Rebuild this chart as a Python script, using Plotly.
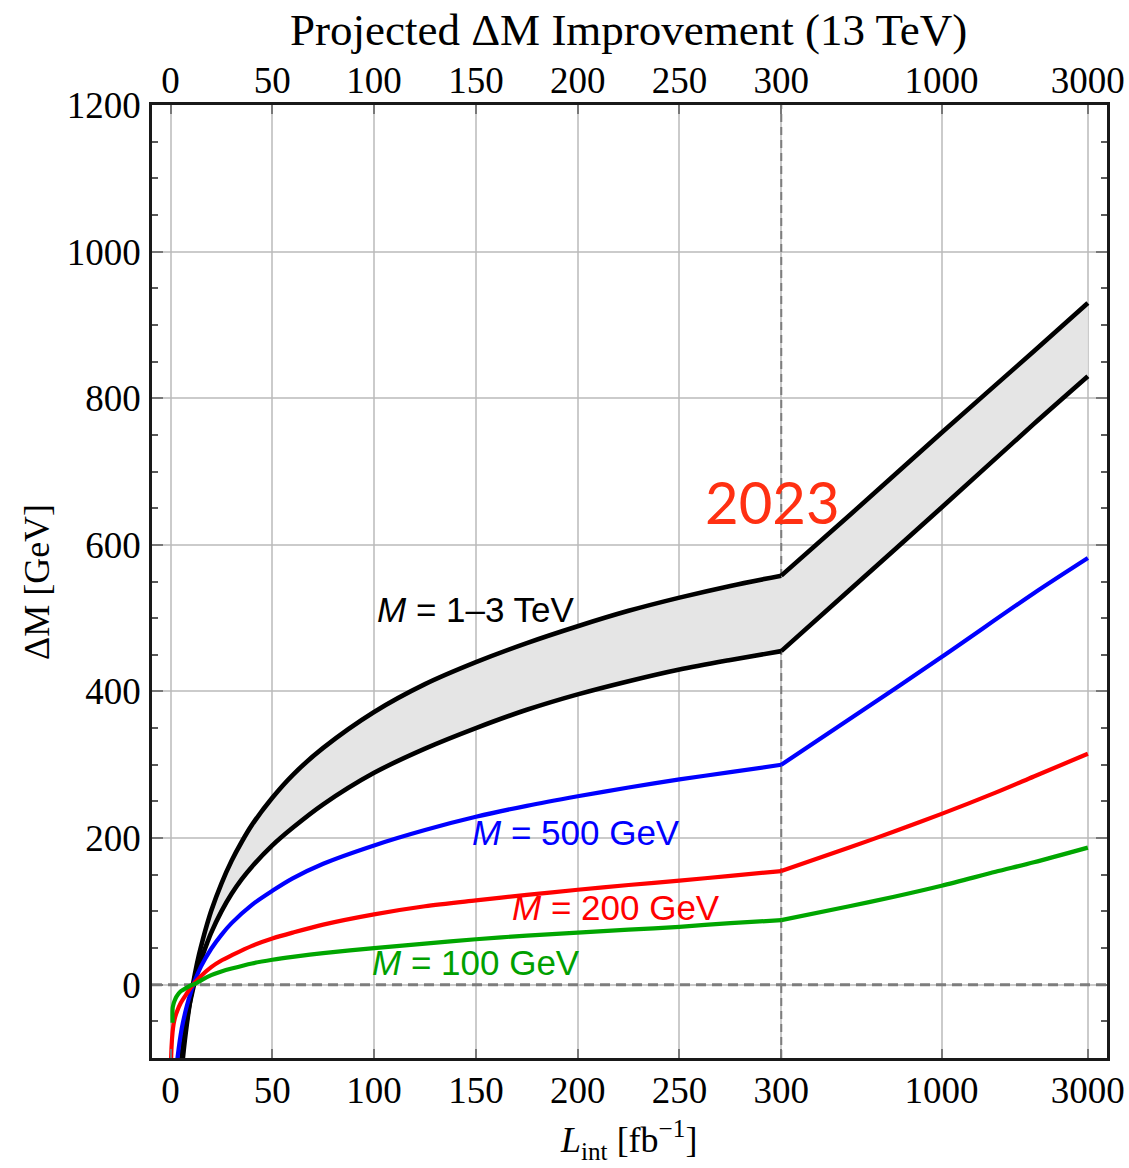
import math
import plotly.graph_objects as go

# ---------------- data ----------------
tick_L = [0, 50, 100, 150, 200, 250, 300, 1000, 3000]
tick_text = ["0", "50", "100", "150", "200", "250", "300", "1000", "3000"]

# M = 1-3 TeV band, upper edge
L_up = [5, 6, 7, 8, 9, 10, 12, 14, 16, 18, 20, 25, 30, 35, 40, 50, 60, 75, 100, 125,
        150, 175, 200, 225, 250, 275, 300, 500, 1000, 2000, 3000]
dm_up = [-133, -102, -76, -54, -34, -16, 15, 41, 63, 83, 101, 138, 169, 195, 218, 255,
         286, 323, 372, 410, 440, 466, 489, 510, 528, 544, 558, 640, 753, 864, 930]

# M = 1-3 TeV band, lower edge
L_lo = [5, 6, 7, 8, 9, 10, 12, 14, 16, 18, 20, 25, 30, 35, 40, 50, 60, 75, 100, 125,
        150, 175, 200, 225, 250, 275, 300, 500, 1000, 2000, 3000]
dm_lo = [-109, -85, -65, -48, -32, -19, 5, 25, 42, 57, 71, 100, 124, 144, 161, 190,
         214, 246, 289, 322, 350, 375, 396, 414, 430, 443, 455, 538, 651, 765, 830]

# M = 500 GeV
L_500 = [2, 2.7, 3, 4, 5, 6, 8, 10, 12, 15, 20, 25, 30, 40, 50, 60, 75, 100, 125, 150,
         175, 200, 225, 250, 275, 300, 500, 1000, 2000, 3000]
dm_500 = [-140, -118, -110, -87, -68, -53, -29, -10, 6, 25, 49, 68, 84, 109, 128, 145,
          165, 190, 211, 229, 244, 257, 269, 280, 290, 300, 362, 447, 534, 582]

# M = 200 GeV
L_200 = [0.2, 0.5, 1, 1.5, 2, 3, 5, 8, 10, 12, 15, 20, 25, 30, 40, 50, 60, 75, 100,
         125, 150, 175, 200, 225, 250, 275, 300, 500, 700, 1000, 1500, 2000, 3000]
dm_200 = [-110, -85, -65, -54, -47, -38, -25, -12, -4, 3, 12, 24, 33, 40, 53, 63, 71,
          82, 96, 107, 115, 122.5, 129.5, 136, 142, 148.5, 155, 187, 209, 233, 262, 284,
          315]

# M = 100 GeV
L_100 = [1.0, 1.05, 1.5, 2, 3, 5, 8, 10, 12, 15, 20, 25, 30, 40, 50, 60, 75, 100, 125,
         150, 175, 200, 225, 250, 275, 300, 500, 700, 1000, 1500, 2000, 3000]
dm_100 = [-52, -32, -26, -22, -16, -9, -4, -1, 1, 6, 13, 18, 22, 29, 34, 38, 43, 50,
          56, 62, 67, 71, 75, 79, 84, 88, 107, 120, 135, 154, 167, 187]

# ---------------- axis transform: linear to 300, log above ----------------
LOG_SCALE = 150.6  # x units per decade above 300
BREAK = 300


def to_u(L):
    return L if L <= BREAK else BREAK + LOG_SCALE * math.log10(L / BREAK)


def us(Ls):
    return [to_u(v) for v in Ls]


tick_u = us(tick_L)

W, H = 1129, 1168
ML, MR, MT, MB = 152, 22, 105, 110
PW, PH = W - ML - MR, H - MT - MB


def px_x(px):
    return (px - ML) / PW


def px_y(py):
    return (H - MB - py) / PH


fig = go.Figure()

# grey band
fig.add_trace(go.Scatter(
    x=us(L_up) + us(L_lo)[::-1], y=dm_up + dm_lo[::-1],
    fill="toself", fillcolor="rgb(229,229,229)", line=dict(width=0),
    mode="lines", hoverinfo="skip", showlegend=False))


def add_curve(Ls, ys, color, width):
    # two pieces so the corner at the axis break stays sharp
    a = [(l, y) for l, y in zip(Ls, ys) if l <= BREAK]
    b = [(l, y) for l, y in zip(Ls, ys) if l >= BREAK]
    for part in (a, b):
        fig.add_trace(go.Scatter(
            x=us([p[0] for p in part]), y=[p[1] for p in part], mode="lines",
            line=dict(color=color, width=width, shape="spline", smoothing=0.8),
            hoverinfo="skip", showlegend=False))


add_curve(L_up, dm_up, "black", 4.6)
add_curve(L_lo, dm_lo, "black", 4.6)
add_curve(L_500, dm_500, "rgb(0,0,255)", 4.2)
add_curve(L_200, dm_200, "rgb(255,0,0)", 4.2)
add_curve(L_100, dm_100, "rgb(0,166,0)", 4.2)

# dummy trace for top axis
fig.add_trace(go.Scatter(x=[tick_u[0]], y=[0], xaxis="x2", mode="markers",
                         marker=dict(opacity=0), hoverinfo="skip", showlegend=False))

x_range = [-9.1, 460.0]
tickfont = dict(family="Liberation Serif", size=37, color="black")
grid_col = "rgba(185,185,185,0.75)"

fig.update_layout(
    width=W, height=H,
    margin=dict(l=ML, r=MR, t=MT, b=MB),
    paper_bgcolor="white", plot_bgcolor="white",
    xaxis=dict(range=x_range, tickvals=tick_u, ticktext=tick_text, automargin=False,
               ticks="inside", ticklen=9, tickwidth=2, tickcolor="rgb(120,120,120)",
               showgrid=True, gridcolor=grid_col, gridwidth=2,
               showline=True, linecolor="rgb(25,25,25)", linewidth=2.5, mirror=True,
               zeroline=False, tickfont=tickfont, ticklabelstandoff=-2),
    xaxis2=dict(range=x_range, overlaying="x", side="top", matches="x", automargin=False,
                tickvals=tick_u, ticktext=tick_text,
                ticks="inside", ticklen=9, tickwidth=2, tickcolor="rgb(120,120,120)",
                showgrid=False, showline=False, zeroline=False, tickfont=tickfont,
                ticklabelstandoff=4),
    yaxis=dict(range=[-100, 1200], tickvals=[0, 200, 400, 600, 800, 1000, 1200],
               automargin=False,
               ticks="inside", ticklen=11, tickwidth=2, tickcolor="rgb(120,120,120)",
               minor=dict(tickvals=[-50, 50, 100, 150, 250, 300, 350, 450, 500, 550,
                                    650, 700, 750, 850, 900, 950, 1050, 1100, 1150],
                          ticks="inside", ticklen=6, tickwidth=2,
                          tickcolor="rgb(90,90,90)", showgrid=False),
               showgrid=True, gridcolor=grid_col, gridwidth=2,
               showline=True, linecolor="rgb(25,25,25)", linewidth=2.5, mirror="ticks",
               zeroline=False, tickfont=tickfont, ticklabelstandoff=1),
)

# dashed reference lines (between grid and data)
fig.add_shape(type="line", xref="x", yref="y", x0=300, x1=300, y0=-100, y1=1200,
              line=dict(color="rgb(125,125,125)", width=2, dash="8px,5px"), layer="between")
fig.add_shape(type="line", xref="x", yref="y", x0=x_range[0], x1=x_range[1], y0=0, y1=0,
              line=dict(color="rgb(125,125,125)", width=3, dash="10px,6px"), layer="between")

lab_font = "Liberation Sans"
LS = 35
fig.add_annotation(x=to_u(150), y=512, xref="x", yref="y", showarrow=False,
                   text="<i>M</i> = 1–3 TeV", font=dict(family=lab_font, size=LS, color="black"))
fig.add_annotation(x=to_u(199), y=207, xref="x", yref="y", showarrow=False,
                   text="<i>M</i> = 500 GeV", font=dict(family=lab_font, size=LS, color="rgb(0,0,255)"))
fig.add_annotation(x=to_u(219), y=105, xref="x", yref="y", showarrow=False,
                   text="<i>M</i> = 200 GeV", font=dict(family=lab_font, size=LS, color="rgb(255,0,0)"))
fig.add_annotation(x=to_u(150), y=30, xref="x", yref="y", showarrow=False,
                   text="<i>M</i> = 100 GeV", font=dict(family=lab_font, size=LS, color="rgb(0,160,0)"))
fig.add_annotation(x=to_u(295.5), y=659, xref="x", yref="y", showarrow=False,
                   text="2023", font=dict(family="Lato", size=58, color="rgb(255,48,18)"))

# titles
fig.add_annotation(x=px_x(628), y=px_y(30), xref="paper", yref="paper", showarrow=False,
                   xanchor="center", yanchor="middle",
                   text="Projected ΔM Improvement (13 TeV)",
                   font=dict(family="Liberation Serif", size=45, color="black"))
fig.add_annotation(x=px_x(37), y=px_y(582), xref="paper", yref="paper", showarrow=False,
                   xanchor="center", yanchor="middle",
                   textangle=-90, text="ΔM [GeV]",
                   font=dict(family="Liberation Serif", size=36, color="black"))
fig.add_annotation(x=px_x(628), y=px_y(1140), xref="paper", yref="paper", showarrow=False,
                   xanchor="center", yanchor="middle",
                   text="<i>L</i><sub>int</sub> [fb<sup>−1</sup>]",
                   font=dict(family="Liberation Serif", size=36, color="black"))

fig.write_html("out.html")
